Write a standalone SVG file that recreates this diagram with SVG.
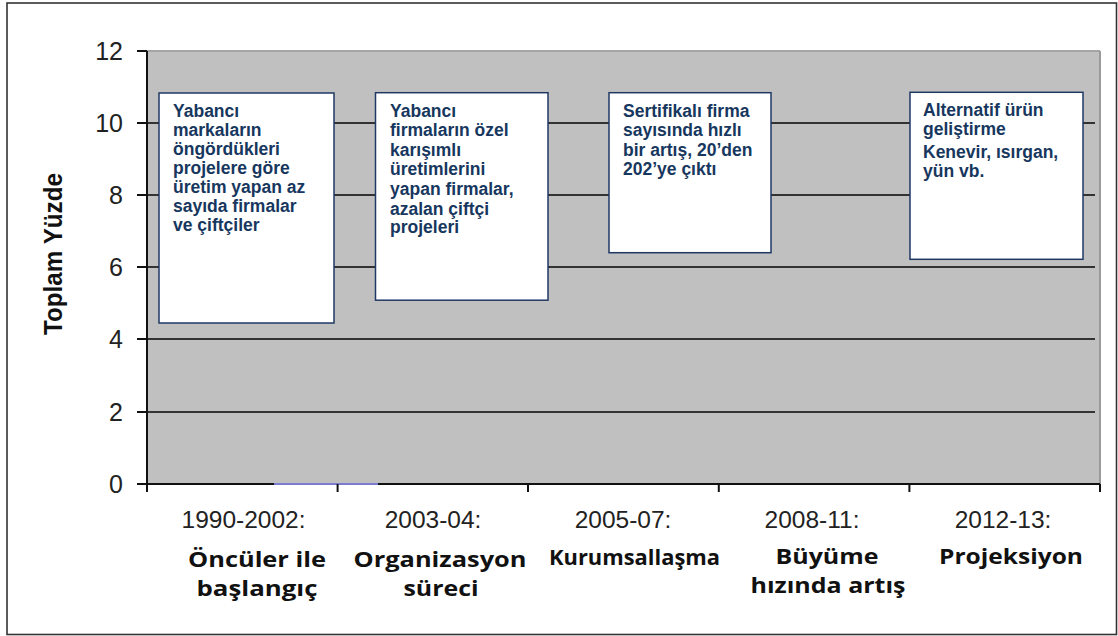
<svg xmlns="http://www.w3.org/2000/svg" width="1118" height="636" viewBox="0 0 1118 636">
<style>
.grid{stroke:#333;stroke-width:2}
.axis{stroke:#111;stroke-width:2}
.box{fill:#fff;stroke:#1f3864;stroke-width:1.5}
.bt{font-family:"Liberation Sans",Arial,sans-serif;font-weight:bold;font-size:17.5px;fill:#17375e}
.yl{font-family:"Liberation Sans",Arial,sans-serif;font-size:25px;fill:#222;text-anchor:end}
.yr{font-family:"Liberation Sans",Arial,sans-serif;font-size:24.5px;fill:#222;text-anchor:middle}
.cl{font-family:"Open Sans","DejaVu Sans",sans-serif;font-weight:bold;font-size:20.5px;fill:#111;text-anchor:middle}
</style>
<rect x="0" y="0" width="1118" height="636" fill="#fff"/>
<rect x="7" y="3" width="1109.5" height="631.5" fill="#fff" stroke="#333" stroke-width="1.6"/>
<g id="plot">
<rect x="147" y="51" width="953" height="433" fill="#c0c0c0"/>
<line x1="147" y1="51" x2="1100" y2="51" stroke="#a5a5a5" stroke-width="2"/>
<line x1="1100" y1="51" x2="1100" y2="484" stroke="#9a9a9a" stroke-width="2"/>
<line class="grid" x1="147" y1="123" x2="1095" y2="123"/>
<line class="grid" x1="147" y1="195" x2="1095" y2="195"/>
<line class="grid" x1="147" y1="267" x2="1095" y2="267"/>
<line class="grid" x1="147" y1="339" x2="1095" y2="339"/>
<line class="grid" x1="147" y1="412" x2="1095" y2="412"/>
<line class="axis" x1="147" y1="51" x2="147" y2="492"/>
<line class="axis" x1="137" y1="484" x2="1100" y2="484"/>
<line x1="274" y1="484" x2="378" y2="484" stroke="#7b7bd0" stroke-width="2"/>
<g class="axis">
<line x1="137" y1="51" x2="147" y2="51"/>
<line x1="137" y1="123" x2="147" y2="123"/>
<line x1="137" y1="195" x2="147" y2="195"/>
<line x1="137" y1="267" x2="147" y2="267"/>
<line x1="137" y1="339" x2="147" y2="339"/>
<line x1="137" y1="412" x2="147" y2="412"/>
<line x1="337.6" y1="484" x2="337.6" y2="492"/>
<line x1="528" y1="484" x2="528" y2="492"/>
<line x1="718.8" y1="484" x2="718.8" y2="492"/>
<line x1="909.4" y1="484" x2="909.4" y2="492"/>
<line x1="1100" y1="484" x2="1100" y2="492"/>
</g>
</g>
<g id="y-axis-labels">
<text class="yl" x="123" y="60">12</text>
<text class="yl" x="123" y="132">10</text>
<text class="yl" x="123" y="204">8</text>
<text class="yl" x="123" y="276">6</text>
<text class="yl" x="123" y="348">4</text>
<text class="yl" x="123" y="421">2</text>
<text class="yl" x="123" y="493">0</text>
<text x="0" y="0" transform="translate(62,254) rotate(-90)" font-family="Liberation Sans, Arial, sans-serif" font-weight="bold" font-size="25" fill="#111" text-anchor="middle" textLength="162" lengthAdjust="spacingAndGlyphs">Toplam Yüzde</text>
</g>
<g id="box1">
<rect class="box" x="159" y="93" width="175" height="230"/>
<text class="bt" x="173" y="116.7">Yabancı</text>
<text class="bt" x="173" y="135.7">markaların</text>
<text class="bt" x="173" y="155">öngördükleri</text>
<text class="bt" x="173" y="173.5">projelere göre</text>
<text class="bt" x="173" y="193.3">üretim yapan az</text>
<text class="bt" x="173" y="212.3">sayıda firmalar</text>
<text class="bt" x="173" y="230.7">ve çiftçiler</text>
</g>
<g id="box2">
<rect class="box" x="375.5" y="92.7" width="172.5" height="207.5"/>
<text class="bt" x="390" y="116.7">Yabancı</text>
<text class="bt" x="390" y="136">firmaların özel</text>
<text class="bt" x="390" y="156">karışımlı</text>
<text class="bt" x="390" y="175">üretimlerini</text>
<text class="bt" x="390" y="195">yapan firmalar,</text>
<text class="bt" x="390" y="215">azalan çiftçi</text>
<text class="bt" x="390" y="233">projeleri</text>
</g>
<g id="box3">
<rect class="box" x="609" y="92.7" width="162" height="160"/>
<text class="bt" x="623" y="116.7">Sertifikalı firma</text>
<text class="bt" x="623" y="136">sayısında hızlı</text>
<text class="bt" x="623" y="156">bir artış, 20’den</text>
<text class="bt" x="623" y="175">202’ye çıktı</text>
</g>
<g id="box4">
<rect class="box" x="910" y="92.3" width="173" height="167"/>
<text class="bt" x="923" y="116">Alternatif ürün</text>
<text class="bt" x="923" y="135">geliştirme</text>
<text class="bt" x="923" y="158">Kenevir, ısırgan,</text>
<text class="bt" x="923" y="177">yün vb.</text>
</g>
<g id="x-axis-labels">
<text class="yr" x="243.5" y="528">1990-2002:</text>
<text class="yr" x="433" y="528">2003-04:</text>
<text class="yr" x="623" y="528">2005-07:</text>
<text class="yr" x="812" y="528">2008-11:</text>
<text class="yr" x="1003" y="528">2012-13:</text>
<text class="cl" x="257" y="567" textLength="138" lengthAdjust="spacingAndGlyphs">Öncüler ile</text>
<text class="cl" x="257" y="595.5" textLength="121" lengthAdjust="spacingAndGlyphs">başlangıç</text>
<text class="cl" x="440" y="567" textLength="173" lengthAdjust="spacingAndGlyphs">Organizasyon</text>
<text class="cl" x="441" y="595.5" textLength="75" lengthAdjust="spacingAndGlyphs">süreci</text>
<text class="cl" x="634.5" y="565" textLength="171" lengthAdjust="spacingAndGlyphs">Kurumsallaşma</text>
<text class="cl" x="827" y="564" textLength="103" lengthAdjust="spacingAndGlyphs">Büyüme</text>
<text class="cl" x="828" y="593" textLength="155" lengthAdjust="spacingAndGlyphs">hızında artış</text>
<text class="cl" x="1011" y="564" textLength="144" lengthAdjust="spacingAndGlyphs">Projeksiyon</text>
</g>
</svg>
